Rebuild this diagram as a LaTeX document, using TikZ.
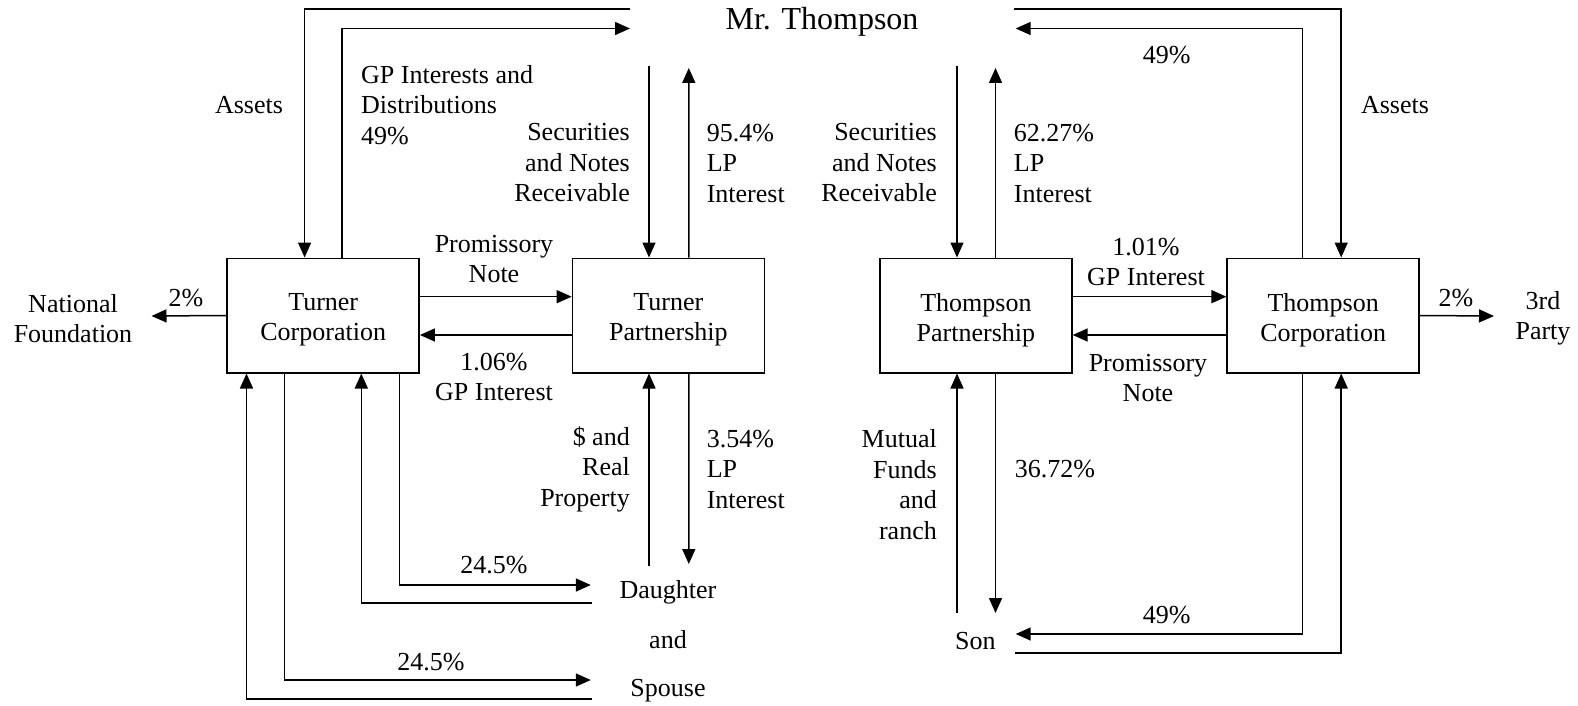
\documentclass[tikz,border=0pt]{standalone}
\usepackage{fontspec}
\setmainfont{Liberation Serif}
\usetikzlibrary{arrows.meta}
\begin{document}
\begin{tikzpicture}[x=1pt,y=-1pt,
  every node/.style={font=\fontsize{26}{30.5}\selectfont, inner sep=0pt},
  entity/.style={draw, line width=1.5pt, minimum width=192pt, minimum height=114.5pt},
  flow/.style={line width=1.5pt, -{Triangle[length=15pt,width=13pt]}},
  lblL/.style={anchor=west, align=left},
  lblR/.style={anchor=east, align=right},
  lblC/.style={align=center}]
\useasboundingbox (0,0) rectangle (1578,706);

% entity boxes and their names
\node[entity] (tc) at (323.2,315.5) {};
\node[entity] (tp) at (668.4,315.5) {};
\node[entity] (hp) at (975.9,315.5) {};
\node[entity] (hc) at (1323.2,315.5) {};
\node[lblC] (tcn) at (323.2,320) {Turner\\Corporation};
\node[lblC] (tpn) at (668.4,320) {Turner\\Partnership};
\node[lblC] (hpn) at (975.9,320) {Thompson\\Partnership};
\node[lblC] (hcn) at (1323.2,320) {Thompson\\Corporation};

\node[font=\fontsize{32}{38}\selectfont] (mt) at (822,22) {Mr. Thompson};
\node[lblC] (nf) at (73,318.5) {National\\Foundation};
\node[lblC] (tp3) at (1543,318.5) {3rd\\Party};
\node (dau) at (668,592) {Daughter};
\node (and) at (668,640) {and};
\node (sp) at (668,691) {Spouse};
\node (son) at (975.4,641) {Son};

% free ends near the people
\coordinate (mtA) at (630,9);
\coordinate (mtB) at (630,28.5);
\coordinate (mtC) at (1013.7,9);
\coordinate (mtD) at (1015.7,28.5);
\coordinate (tpT1) at (649,66);
\coordinate (tpT2) at (688.8,68);
\coordinate (hpT1) at (957,66);
\coordinate (hpT2) at (995.5,68);
\coordinate (tpB1) at (649,566);
\coordinate (tpB2) at (688.8,564);
\coordinate (hpB1) at (957,613);
\coordinate (hpB2) at (995.5,613);
\coordinate (dA) at (590.8,585);
\coordinate (dB) at (591.8,603);
\coordinate (sA) at (590.8,680);
\coordinate (sB) at (591.8,699);
\coordinate (sonA) at (1015.7,634);
\coordinate (sonB) at (1014.7,653);
\coordinate (nfA) at (151.5,316);
\coordinate (tpA) at (1494,316);

% Mr. Thompson and the corporations
\draw[flow] (mtA) -| ([xshift=-18.6pt]tc.north);
\draw[flow] ([xshift=18.6pt]tc.north) |- (mtB);
\draw[flow] (mtC) -| ([xshift=18pt]hc.north);
\draw[flow] ([xshift=-20.5pt]hc.north) |- (mtD);

% Mr. Thompson and the partnerships
\draw[flow] (tpT1) -- ([xshift=-19.4pt]tp.north);
\draw[flow] ([xshift=20.4pt]tp.north) -- (tpT2);
\draw[flow] (hpT1) -- ([xshift=-18.9pt]hp.north);
\draw[flow] ([xshift=19.6pt]hp.north) -- (hpT2);

% between corporations and partnerships
\draw[flow] ([yshift=18.8pt]tc.east) -- ([yshift=18.8pt]tp.west);
\draw[flow] ([yshift=-19.5pt]tp.west) -- ([yshift=-19.5pt]tc.east);
\draw[flow] ([yshift=18.8pt]hp.east) -- ([yshift=18.8pt]hc.west);
\draw[flow] ([yshift=-19.5pt]hc.west) -- ([yshift=-19.5pt]hp.east);

% outside recipients
\draw[flow] (tc.west) -- (nfA);
\draw[flow] (hc.east) -- (tpA);

% partnerships and children
\draw[flow] (tpB1) -- ([xshift=-19.4pt]tp.south);
\draw[flow] ([xshift=20.4pt]tp.south) -- (tpB2);
\draw[flow] (hpB1) -- ([xshift=-18.9pt]hp.south);
\draw[flow] ([xshift=19.6pt]hp.south) -- (hpB2);

% corporations and family
\draw[flow] ([xshift=76.5pt]tc.south) |- (dA);
\draw[flow] (dB) -| ([xshift=38.1pt]tc.south);
\draw[flow] ([xshift=-38.7pt]tc.south) |- (sA);
\draw[flow] (sB) -| ([xshift=-76.7pt]tc.south);
\draw[flow] ([xshift=-20.5pt]hc.south) |- (sonA);
\draw[flow] (sonB) -| ([xshift=18pt]hc.south);

% labels
\node at (249,105) {Assets};
\node[lblL] at (361,105) {GP Interests and\\Distributions\\49\%};
\node[lblR] at (630,163) {Securities\\and Notes\\Receivable};
\node[lblL] at (706.6,163) {95.4\%\\LP\\Interest};
\node[lblR] at (937,163) {Securities\\and Notes\\Receivable};
\node[lblL] at (1013.7,163) {62.27\%\\LP\\Interest};
\node at (1166.7,55) {49\%};
\node at (1395,105) {Assets};
\node[lblC] at (494,259) {Promissory\\Note};
\node[lblC] at (494,377) {1.06\%\\GP Interest};
\node[lblC] at (1146,262) {1.01\%\\GP Interest};
\node[lblC] at (1148,378) {Promissory\\Note};
\node at (186,298) {2\%};
\node at (1456,298) {2\%};
\node[lblR] at (630,469) {\$ and\\Real\\Property};
\node[lblL] at (706.6,469) {3.54\%\\LP\\Interest};
\node[lblR] at (937,484.5) {Mutual\\Funds\\and\\ranch};
\node[lblL] at (1014.7,469) {36.72\%};
\node at (494,565) {24.5\%};
\node at (431,662) {24.5\%};
\node at (1166.7,615) {49\%};
\end{tikzpicture}
\end{document}
